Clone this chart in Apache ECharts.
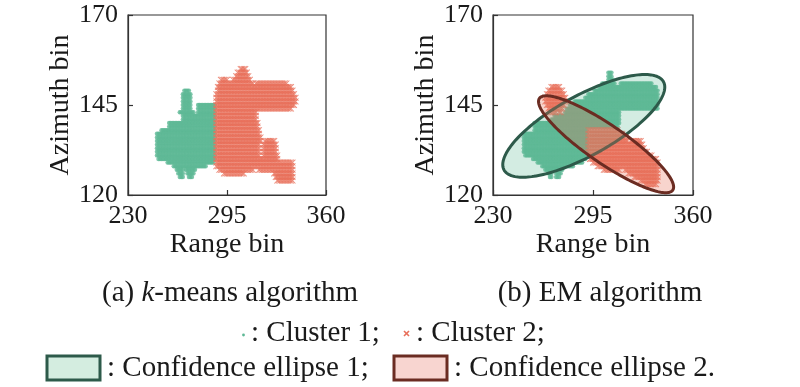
<!DOCTYPE html>
<html><head><meta charset="utf-8">
<script src="https://cdn.jsdelivr.net/npm/echarts@6/dist/echarts.min.js"></script>
<style>html,body{margin:0;padding:0;background:#fff}#c{width:800px;height:387px}</style>
</head><body><div id="c"></div>
<script>
// ---- data ----
const rangeTicks = [230, 295, 360];
const azimuthTicks = [120, 145, 170];
// rows: [azimuthBin, rangeStart, rangeEnd, (rangeStart2, rangeEnd2) ...] (run-length encoded bins)
const kmeansCluster1Rows = [
  [149, 267, 270], [148, 266, 271], [147, 266, 271], [146, 266, 271],
  [145, 266, 271, 276, 287], [144, 266, 271, 276, 287], [143, 264, 273, 276, 287],
  [142, 266, 287], [141, 266, 287], [140, 257, 287], [139, 257, 287], [138, 252, 287],
  [137, 249, 287], [136, 249, 287], [135, 249, 287], [134, 249, 287], [133, 249, 287],
  [132, 249, 287], [131, 249, 287], [130, 250, 287], [129, 256, 286], [128, 260, 281],
  [127, 262, 266, 268, 274], [126, 263, 266, 269, 273], [125, 264, 266, 270, 272]
];
const kmeansCluster2Rows = [
  [155, 304, 307], [154, 302, 308], [153, 301, 309], [152, 291, 295, 299, 310],
  [151, 290, 312, 314, 334], [150, 289, 337], [149, 289, 338], [148, 288, 339],
  [147, 288, 340], [146, 288, 340], [145, 288, 339], [144, 288, 337],
  [143, 288, 314], [142, 288, 314], [141, 288, 314], [140, 288, 315], [139, 288, 315],
  [138, 288, 316], [137, 288, 316], [136, 288, 317], [135, 288, 317, 320, 326],
  [134, 288, 316, 319, 327], [133, 288, 316, 319, 327], [132, 288, 316, 319, 327],
  [131, 288, 316, 319, 328], [130, 288, 328], [129, 288, 338], [128, 288, 338],
  [127, 290, 312, 316, 338], [126, 293, 306, 326, 338], [125, 327, 338], [124, 328, 338]
];
const emCluster1Rows = [
  [154, 305, 307], [153, 305, 307], [152, 305, 308], [151, 301, 309, 313, 333],
  [150, 299, 336], [149, 296, 337], [148, 292, 337], [147, 290, 337], [146, 283, 337],
  [145, 280, 337], [144, 278, 337], [143, 277, 312], [142, 270, 312], [141, 268, 312],
  [140, 257, 312], [139, 257, 311], [138, 257, 291], [137, 250, 291], [136, 250, 291],
  [135, 250, 291], [134, 250, 291], [133, 250, 291], [132, 250, 291], [131, 251, 291],
  [130, 256, 290], [129, 259, 288], [128, 262, 282], [127, 264, 275],
  [126, 266, 268, 271, 274], [125, 267, 268, 271, 273]
];
const emCluster2Rows = [
  [150, 268, 273], [149, 266, 275], [148, 265, 276], [147, 264, 277], [146, 264, 277],
  [145, 265, 276], [144, 266, 275], [143, 267, 271, 273, 274],
  [138, 292, 311], [137, 292, 314], [136, 292, 316], [135, 292, 317, 320, 326],
  [134, 292, 327], [133, 292, 328], [132, 292, 330], [131, 292, 333], [130, 293, 336],
  [129, 295, 337], [128, 298, 337], [127, 302, 312, 316, 337], [126, 318, 337],
  [125, 322, 337], [124, 326, 337], [123, 329, 336]
];
// confidence ellipses (EM): mean [range, azimuth] and covariance
const ellipse1Mean = [289.0, 139.2];
const ellipse1Cov = [[462.8, 94.6], [94.6, 34.0]];
const ellipse2Mean = [303.5, 134.1];
const ellipse2Cov = [[321.8, -87.05], [-87.05, 30.21]];
const chiSquare95 = 5.991;

// ---- styles ----
const FONT = '"Liberation Serif","Times New Roman",serif';
const TXT = '#1a1a1a';
const GREEN = '#5db895';
const RED = '#e8705b';
const XSYM = 'path://M1,0L5,4L9,0L10,1L6,5L10,9L9,10L5,6L1,10L0,9L4,5L0,1Z';

function expandRows(rows) {
  const pts = [];
  rows.forEach(r => {
    const a = r[0];
    for (let k = 1; k + 1 < r.length; k += 2) {
      for (let v = r[k]; v <= r[k + 1]; v++) pts.push([v, a]);
    }
  });
  return pts;
}

function ellipseSeries(mean, cov, idx, fill, stroke, z) {
  return {
    type: 'custom', xAxisIndex: idx, yAxisIndex: idx, z: z, silent: true, clip: false,
    data: [[mean[0], mean[1]]],
    renderItem: function (params, api) {
      const l11 = Math.sqrt(cov[0][0]);
      const l21 = cov[0][1] / l11;
      const l22 = Math.sqrt(cov[1][1] - l21 * l21);
      const s = Math.sqrt(chiSquare95);
      const pts = [];
      for (let k = 0; k < 180; k++) {
        const t = 2 * Math.PI * k / 180;
        const c = Math.cos(t) * s, d = Math.sin(t) * s;
        pts.push(api.coord([mean[0] + l11 * c, mean[1] + l21 * c + l22 * d]));
      }
      return { type: 'polygon', shape: { points: pts }, style: { fill: fill, stroke: stroke, lineWidth: 3 } };
    }
  };
}

function xAxisCfg(idx) {
  return {
    gridIndex: idx, type: 'value', min: 230, max: 360,
    name: 'Range bin', nameLocation: 'middle', nameGap: 36,
    nameTextStyle: { fontFamily: FONT, fontSize: 28, color: TXT },
    axisLine: { show: true, lineStyle: { color: '#333', width: 1.2 } },
    axisTick: { show: true, inside: true, length: 5, customValues: rangeTicks, lineStyle: { color: '#333', width: 1.2 } },
    axisLabel: { customValues: rangeTicks, margin: 8, fontFamily: FONT, fontSize: 26, color: TXT },
    splitLine: { show: false }
  };
}
function yAxisCfg(idx) {
  return {
    gridIndex: idx, type: 'value', min: 120, max: 170,
    name: 'Azimuth bin', nameLocation: 'middle', nameGap: 53,
    nameTextStyle: { fontFamily: FONT, fontSize: 28, color: TXT },
    axisLine: { show: true, lineStyle: { color: '#333', width: 1.2 } },
    axisTick: { show: true, inside: true, length: 5, customValues: azimuthTicks, lineStyle: { color: '#333', width: 1.2 } },
    axisLabel: { customValues: azimuthTicks, margin: 10, fontFamily: FONT, fontSize: 26, color: TXT },
    splitLine: { show: false }
  };
}

const chart = echarts.init(document.getElementById('c'), null, { renderer: 'canvas' });
const gridStyle = { show: true, borderColor: '#333', borderWidth: 1.2, containLabel: false };
const T29 = '29px ' + FONT;
chart.setOption({
  animation: false,
  backgroundColor: '#fff',
  grid: [
    Object.assign({ left: 128, top: 15, width: 198, height: 180 }, gridStyle),
    Object.assign({ left: 493, top: 15, width: 200, height: 180 }, gridStyle)
  ],
  xAxis: [xAxisCfg(0), xAxisCfg(1)],
  yAxis: [yAxisCfg(0), yAxisCfg(1)],
  series: [
    { type: 'scatter', xAxisIndex: 0, yAxisIndex: 0, data: expandRows(kmeansCluster1Rows), symbol: 'circle', symbolSize: 4.4, itemStyle: { color: GREEN }, silent: true, z: 2 },
    { type: 'scatter', xAxisIndex: 0, yAxisIndex: 0, data: expandRows(kmeansCluster2Rows), symbol: XSYM, symbolSize: 6.5, itemStyle: { color: RED }, silent: true, z: 2 },
    { type: 'scatter', xAxisIndex: 1, yAxisIndex: 1, data: expandRows(emCluster1Rows), symbol: 'circle', symbolSize: 4.4, itemStyle: { color: GREEN }, silent: true, z: 2 },
    { type: 'scatter', xAxisIndex: 1, yAxisIndex: 1, data: expandRows(emCluster2Rows), symbol: XSYM, symbolSize: 6.5, itemStyle: { color: RED }, silent: true, z: 2 },
    ellipseSeries(ellipse1Mean, ellipse1Cov, 1, 'rgba(93,184,149,0.27)', '#2d5a4a', 3),
    ellipseSeries(ellipse2Mean, ellipse2Cov, 1, 'rgba(232,112,91,0.30)', '#6b2c22', 4)
  ],
  graphic: [
    { type: 'text', x: 230, y: 293, style: { text: '{n|(a) }{i|k}{n|-means algorithm}', align: 'center', verticalAlign: 'middle',
      rich: { n: { fontFamily: FONT, fontSize: 29, fill: TXT }, i: { fontFamily: FONT, fontSize: 29, fontStyle: 'italic', fill: TXT } } } },
    { type: 'text', x: 600, y: 293, style: { text: '(b) EM algorithm', align: 'center', verticalAlign: 'middle', font: T29, fill: TXT } },
    { type: 'circle', shape: { cx: 243.5, cy: 335, r: 1.4 }, style: { fill: GREEN } },
    { type: 'text', x: 251, y: 333, style: { text: ': Cluster 1;', align: 'left', verticalAlign: 'middle', font: T29, fill: TXT } },
    { type: 'group', x: 404, y: 331, children: [
      { type: 'line', shape: { x1: 0, y1: 0, x2: 5, y2: 5 }, style: { stroke: RED, lineWidth: 1.6 } },
      { type: 'line', shape: { x1: 5, y1: 0, x2: 0, y2: 5 }, style: { stroke: RED, lineWidth: 1.6 } }
    ] },
    { type: 'text', x: 416, y: 333, style: { text: ': Cluster 2;', align: 'left', verticalAlign: 'middle', font: T29, fill: TXT } },
    { type: 'rect', shape: { x: 47, y: 356, width: 53, height: 24 }, style: { fill: '#d4ede0', stroke: '#2d5a4a', lineWidth: 3 } },
    { type: 'text', x: 107, y: 368, style: { text: ': Confidence ellipse 1;', align: 'left', verticalAlign: 'middle', font: T29, fill: TXT } },
    { type: 'rect', shape: { x: 394, y: 356, width: 53, height: 24 }, style: { fill: '#f8d5d0', stroke: '#6b2c22', lineWidth: 3 } },
    { type: 'text', x: 454, y: 368, style: { text: ': Confidence ellipse 2.', align: 'left', verticalAlign: 'middle', font: T29, fill: TXT } }
  ]
});
</script></body></html>
